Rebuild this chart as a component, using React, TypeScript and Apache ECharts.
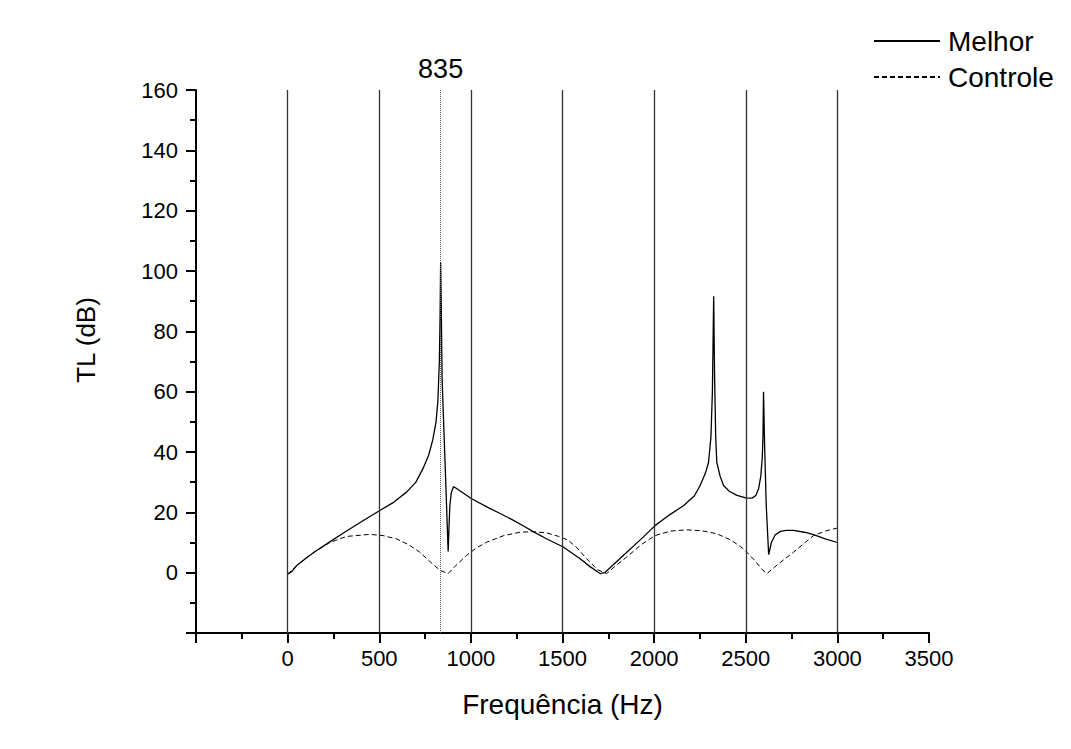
import React, { useEffect, useRef } from "react";
import * as echarts from "echarts";

// Frequency (Hz) / TL (dB)
const melhorHz = [0, 25, 50, 100, 150, 230, 300, 400, 503, 580, 649, 700, 738, 770, 792, 810, 820, 828, 832, 835, 838, 843, 860, 876, 880, 885, 893, 905, 920, 960, 1004, 1100, 1160, 1230, 1290, 1340, 1420, 1504, 1596, 1650, 1705, 1730, 1780, 1851, 1930, 2005, 2080, 2160, 2220, 2251, 2280, 2297, 2310, 2318, 2325, 2330, 2336, 2342, 2360, 2379, 2410, 2452, 2500, 2534, 2555, 2570, 2582, 2590, 2594, 2597, 2603, 2612, 2625, 2640, 2660, 2689, 2720, 2761, 2820, 2870, 2930, 3000];
const melhorTL = [-0.5, 0.5, 2.4, 4.8, 7, 10.2, 13, 16.8, 20.6, 23.4, 26.7, 30, 34.4, 39, 44, 50, 57, 70, 85, 103, 90, 64, 35, 7, 14, 22, 26.5, 28.5, 28, 26.3, 24.5, 21.4, 19.6, 17.4, 15.4, 13.6, 11, 8.5, 4.6, 2, -0.3, 0, 2.8, 6.8, 11.2, 15.6, 19, 22.2, 25.5, 28.9, 33, 36.6, 45, 60, 91.6, 65, 45, 36.6, 32, 28.9, 27, 25.6, 24.8, 24.7, 25.6, 27.8, 32, 38, 45, 60, 42, 22, 6, 10, 12.5, 13.7, 14, 14, 13.4, 12.6, 11.3, 10];

const controleHz = [0, 50, 100, 150, 230, 321, 448, 520, 594, 660, 721, 780, 831, 876, 920, 976, 1030, 1086, 1180, 1268, 1340, 1413, 1480, 1530, 1580, 1632, 1690, 1741, 1790, 1851, 1930, 2005, 2090, 2179, 2260, 2342, 2420, 2488, 2550, 2590, 2616, 2680, 2761, 2820, 2870, 2940, 3000];
const controleTL = [-0.5, 2.4, 4.8, 7, 10, 12, 12.7, 12.3, 11.2, 9.3, 6.8, 3.5, 0.8, -0.3, 2.5, 5.7, 8.2, 10.1, 12.3, 13.4, 13.6, 13.2, 12, 10.8, 8.2, 4.6, 1, -0.3, 2.3, 5.2, 9.3, 12.3, 13.8, 14.2, 13.9, 12.9, 10.8, 7.9, 4, 1, -0.3, 3, 6.8, 9.8, 12.3, 13.9, 14.8];

const referenceLinesHz = [0, 500, 1000, 1500, 2000, 2500, 3000];
const markerHz = 835;
const seriesNames = ["Melhor", "Controle"];

const FONT = "Liberation Sans, Arial, sans-serif";

export default function App() {
  const ref = useRef<HTMLDivElement>(null);
  useEffect(() => {
    if (!ref.current) return;
    const chart = echarts.init(ref.current, undefined, { renderer: "svg" });
    const melhorData = melhorHz.map((x, i) => [x, melhorTL[i]]);
    const controleData = controleHz.map((x, i) => [x, controleTL[i]]);
    chart.setOption({
      animation: false,
      backgroundColor: "#ffffff",
      textStyle: { fontFamily: FONT, color: "#000" },
      grid: { left: 196, right: 142, top: 90, bottom: 116, containLabel: false },
      legend: {
        data: seriesNames,
        orient: "vertical",
        left: 873,
        top: 27,
        padding: 0,
        itemWidth: 66,
        itemHeight: 14,
        itemGap: 8,
        itemStyle: { opacity: 0 },
        textStyle: { fontSize: 28, color: "#000", fontFamily: FONT, padding: [0, 0, 0, 3] },
      },
      xAxis: {
        type: "value",
        min: -500,
        max: 3500,
        interval: 500,
        name: "Frequência (Hz)",
        nameLocation: "middle",
        nameGap: 57,
        nameTextStyle: { fontSize: 28, color: "#000", fontFamily: FONT },
        axisLine: { show: true, onZero: false, lineStyle: { color: "#000", width: 2 } },
        axisTick: { show: true, length: 10, lineStyle: { color: "#000", width: 2 } },
        minorTick: { show: true, splitNumber: 2, length: 6, lineStyle: { color: "#000", width: 2 } },
        splitLine: { show: false },
        axisLabel: {
          fontSize: 22,
          color: "#000",
          fontFamily: FONT,
          margin: 14,
          formatter: (v: number) => (v < 0 ? "" : String(v)),
        },
      },
      yAxis: {
        type: "value",
        min: -20,
        max: 160,
        interval: 20,
        axisLine: { show: true, onZero: false, lineStyle: { color: "#000", width: 2 } },
        axisTick: { show: true, length: 10, lineStyle: { color: "#000", width: 2 } },
        minorTick: { show: true, splitNumber: 2, length: 6, lineStyle: { color: "#000", width: 2 } },
        splitLine: { show: false },
        axisLabel: {
          fontSize: 22,
          color: "#000",
          fontFamily: FONT,
          margin: 18,
          formatter: (v: number) => (v < 0 ? "" : String(v)),
        },
      },
      graphic: [
        {
          type: "text",
          x: 86,
          y: 340,
          rotation: Math.PI / 2,
          style: {
            text: "TL (dB)",
            fontSize: 26,
            fontFamily: FONT,
            fill: "#000",
            align: "center",
            verticalAlign: "middle",
          },
        },
      ],
      series: [
        {
          name: "Melhor",
          type: "line",
          data: melhorData,
          symbol: "none",
          smooth: false,
          lineStyle: { color: "#000", width: 1.3, type: "solid" },
          itemStyle: { color: "#000" },
          z: 3,
          markLine: {
            silent: true,
            symbol: ["none", "none"],
            animation: false,
            data: [
              ...referenceLinesHz.map((x) => ({
                xAxis: x,
                lineStyle: { color: "#333", width: 1.3, type: "solid" },
                label: { show: false },
              })),
              {
                xAxis: markerHz,
                lineStyle: { color: "#555", width: 1, type: "dotted" },
                label: {
                  show: true,
                  position: "end",
                  distance: 8,
                  formatter: String(markerHz),
                  fontSize: 27,
                  color: "#000",
                  fontFamily: FONT,
                },
              },
            ],
          },
        },
        {
          name: "Controle",
          type: "line",
          data: controleData,
          symbol: "none",
          smooth: false,
          lineStyle: { color: "#000", width: 1, type: [5, 3] },
          itemStyle: { color: "#000" },
          z: 2,
        },
      ],
    });
    return () => chart.dispose();
  }, []);
  return (
    <div
      ref={ref}
      style={{ position: "absolute", left: 0, top: 0, width: 1071, height: 749, background: "#fff" }}
    />
  );
}
